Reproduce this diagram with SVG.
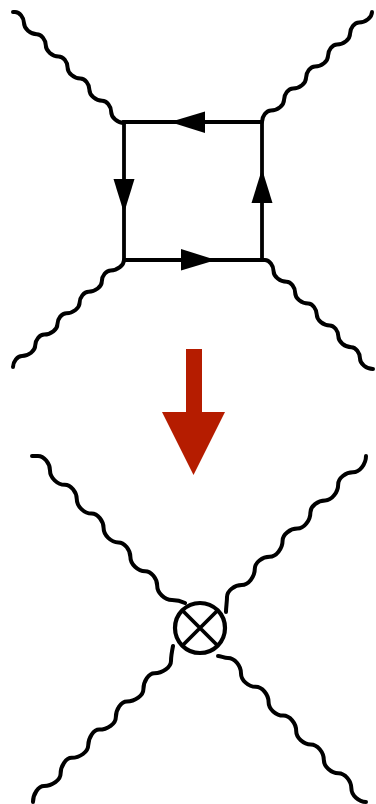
<svg xmlns="http://www.w3.org/2000/svg" width="376" height="804" viewBox="0 0 376 804">
<style>
.wave{fill:none;stroke:#000;stroke-width:4;stroke-linecap:round;stroke-linejoin:round}
.line{fill:none;stroke:#000;stroke-width:3.8;stroke-linecap:square}
.head{fill:#000}
.red{fill:#b51a00}
</style>
<defs>
<filter id="soft" x="0" y="0" width="376" height="804" filterUnits="userSpaceOnUse"><feGaussianBlur stdDeviation="0.55"/></filter>
</defs>
<rect width="376" height="804" fill="#fff"/>
<g filter="url(#soft)">
<g id="connectors">
<path class="wave" d="M13,12 h2 c4.5,0 9,5.5 9,11.1 c0,5.5 6.4,11.1 12.8,11.1 c4.5,0 9,5.5 9,11.1 c0,5.5 6.4,11.1 12.8,11.1 c4.5,0 9,5.5 9,11.1 c0,5.5 6.4,11.1 12.8,11.1 c4.5,0 9,5.5 9,11.1 c0,5.5 6.4,11.1 12.8,11.1 c4.5,0 9,5.5 9,11.1 c0,5.5 6.4,11.1 12.8,11.1"/>
<path class="wave" d="M262,122 c0,-5.75 4.5,-11.5 9,-11.5 c6.5,0 13,-5.25 13,-10.5 c0,-5.75 4.5,-11.5 9,-11.5 c6.5,0 13,-5.25 13,-10.5 c0,-5.75 4.5,-11.5 9,-11.5 c6.5,0 13,-5.25 13,-10.5 c0,-5.75 4.5,-11.5 9,-11.5 c6.5,0 13,-5.25 13,-10.5 c0,-5.75 4.5,-11.5 9,-11.5 c6.5,0 13,-5.25 13,-10.5"/>
<path class="wave" d="M13,367 c0,-5.5 4.5,-11 9,-11 c6.6,0 13.2,-5.2 13.2,-10.4 c0,-5.5 4.5,-11 9,-11 c6.6,0 13.2,-5.2 13.2,-10.4 c0,-5.5 4.5,-11 9,-11 c6.6,0 13.2,-5.2 13.2,-10.4 c0,-5.5 4.5,-11 9,-11 c6.6,0 13.2,-5.2 13.2,-10.4 c0,-5.5 4.5,-11 9,-11 c6.6,0 13.2,-5.2 13.2,-10.4"/>
<path class="wave" d="M262,260 h3 c4.3,0 8.6,5.6 8.6,11.2 c0,5.3 6.5,10.6 13,10.6 c4.3,0 8.6,5.6 8.6,11.2 c0,5.3 6.5,10.6 13,10.6 c4.3,0 8.6,5.6 8.6,11.2 c0,5.3 6.5,10.6 13,10.6 c4.3,0 8.6,5.6 8.6,11.2 c0,5.3 6.5,10.6 13,10.6 c4.3,0 8.6,5.6 8.6,11.2 c0,5.3 6.5,10.6 13,10.6"/>
<path class="line" d="M124,122 H262 V260 H124 Z"/>
<path class="wave" d="M32,456 h6 c6,0 12,7.25 12,14.5 c0,7.15 7.4,14.3 14.8,14.3 c6,0 12,7.25 12,14.5 c0,7.15 7.4,14.3 14.8,14.3 c6,0 12,7.25 12,14.5 c0,7.15 7.4,14.3 14.8,14.3 c6,0 12,7.25 12,14.5 c0,7.15 7.4,14.3 14.8,14.3 c6,0 12,7.25 12,14.5 c0,7.15 7.4,14.3 14.8,14.3 c5,0 9,1 13,3"/>
<path class="wave" d="M226,612 c0,-5 1,-10 1,-15 c0,-6 7.4,-12 14.8,-12 c6.5,0 13,-8.1 13,-16.2 c0,-6 7.4,-12 14.8,-12 c6.5,0 13,-8.1 13,-16.2 c0,-6 7.4,-12 14.8,-12 c6.5,0 13,-8.1 13,-16.2 c0,-6 7.4,-12 14.8,-12 c6.5,0 13,-8.1 13,-16.2 c0,-6 7.4,-12 14.8,-12 c6.5,0 13,-8.1 13,-16.2"/>
<path class="wave" d="M33,802 c0,-8 5.5,-16 11,-16 c8.3,0 16.6,-6.1 16.6,-12.2 c0,-8 5.5,-16 11,-16 c8.3,0 16.6,-6.1 16.6,-12.2 c0,-8 5.5,-16 11,-16 c8.3,0 16.6,-6.1 16.6,-12.2 c0,-8 5.5,-16 11,-16 c8.3,0 16.6,-6.1 16.6,-12.2 c0,-8 5.5,-16 11,-16 c8.3,0 16.6,-6.1 16.6,-12.2 c0,-5 1,-10 2,-15"/>
<path class="wave" d="M218,656 c3,0 6,2 10,2 c6.5,0 13,7.7 13,15.4 c0,6.7 7.3,13.4 14.6,13.4 c6.5,0 13,7.7 13,15.4 c0,6.7 7.3,13.4 14.6,13.4 c6.5,0 13,7.7 13,15.4 c0,6.7 7.3,13.4 14.6,13.4 c6.5,0 13,7.7 13,15.4 c0,6.7 7.3,13.4 14.6,13.4 c6.5,0 13,7.7 13,15.4 c0,6.7 7.3,13.4 14.6,13.4"/>
<polygon class="head" points="170,122 205,111.5 205,133"/>
<polygon class="head" points="124,213 113.5,179 134.5,179"/>
<polygon class="head" points="216,260 181,249 181,270.5"/>
<polygon class="head" points="262,169 251.5,203 272.5,203"/>
</g>
<g id="arrow">
<rect class="red" x="186" y="349" width="16" height="64"/>
<polygon class="red" points="162,412 225,412 193.5,475"/>
</g>
<g id="vertex" fill="none" stroke="#000" stroke-width="4.2">
<circle cx="200" cy="628" r="25"/>
<path stroke-width="3.8" d="M182.5,610.5 L217.5,645.5 M217.5,610.5 L182.5,645.5"/>
</g>
</g>
</svg>
